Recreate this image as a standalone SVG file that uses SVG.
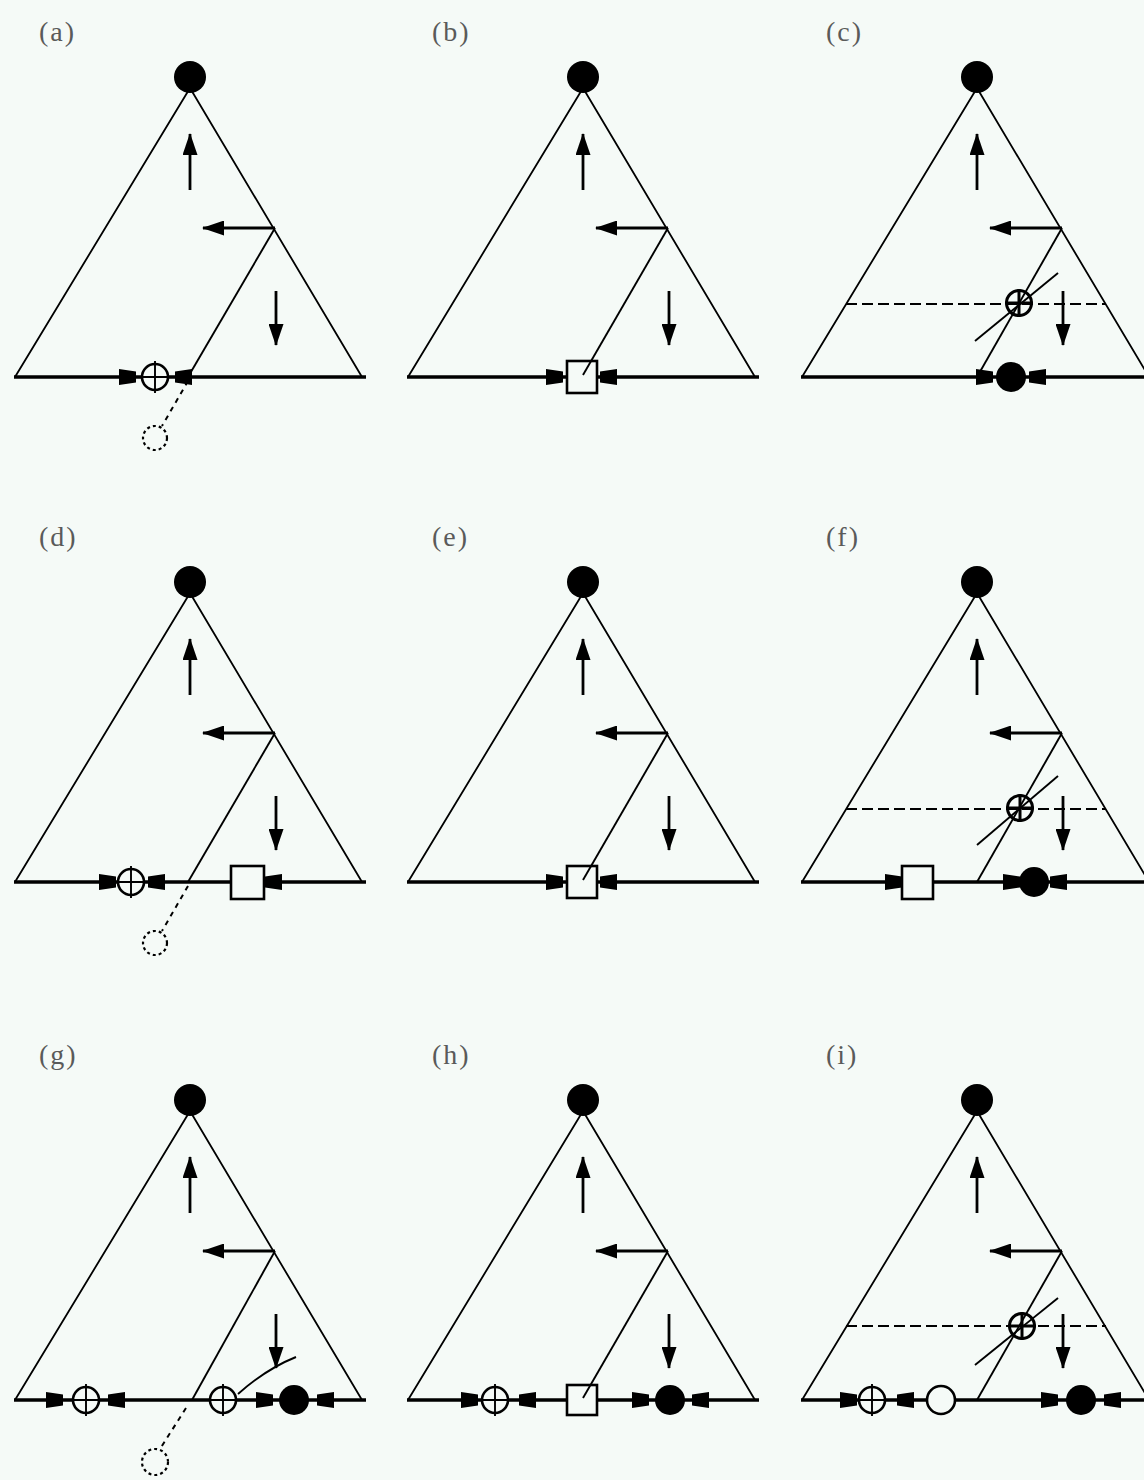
<svg xmlns="http://www.w3.org/2000/svg" xmlns:xlink="http://www.w3.org/1999/xlink" width="1144" height="1480" viewBox="0 0 1144 1480">
<style>
.bg{fill:#f5faf7}
.side{fill:none;stroke:#000;stroke-width:1.8}
.base{fill:none;stroke:#000;stroke-width:3.5}
.shaft{fill:none;stroke:#000;stroke-width:2.8;marker-end:url(#ah)}
.thin{fill:none;stroke:#000;stroke-width:1.9}
.hd{fill:none;stroke:#000;stroke-width:2.2;stroke-dasharray:11 5}
.ld{fill:none;stroke:#000;stroke-width:2;stroke-dasharray:5 5}
.fill{fill:#000}
.open{fill:#f5faf7;stroke:#000;stroke-width:2.6}
.dot{fill:none;stroke:#000;stroke-width:2.2;stroke-dasharray:3 3}
.lbl{font-family:"Liberation Serif",serif;font-size:28px;fill:#5a5a5a;letter-spacing:2px}
</style>
<defs>
<marker id="ah" viewBox="0 0 22 15" refX="21" refY="7.5" markerWidth="22" markerHeight="15" markerUnits="userSpaceOnUse" orient="auto"><path d="M0,0 L22,7.5 L0,15 z"/></marker>
<path id="pr" d="M-17,-8 L0,-5.5 L0,5.5 L-17,8 z"/>
<path id="pl" d="M17,-8 L0,-5.5 L0,5.5 L17,8 z"/>
<g id="xc"><circle r="13" class="open"/><path d="M0,-16 V16 M-13,0 H13" class="thin" stroke-width="2.4"/></g>
<g id="xb"><circle r="12.5" fill="none" stroke="#000" stroke-width="3"/><path d="M0,-14 V14 M-14,0 H14" fill="none" stroke="#000" stroke-width="3"/></g>
<g id="frame"><path class="side" d="M190,88 L15,377 M190,88 L362,377"/><path class="base" d="M14,377 H366"/></g>
<g id="arrows"><path class="shaft" d="M190,190 V134"/><path class="shaft" d="M275,228 H203"/><path class="shaft" d="M276,291 V345"/></g>
</defs>
<rect class="bg" x="0" y="0" width="1144" height="1480"/>

<!-- (a) -->
<g id="panel-a" transform="translate(0,0)">
<text class="lbl" x="39" y="41">(a)</text>
<g id="a-connectors"><use href="#frame"/><use href="#arrows"/><path class="thin" d="M275,228 L188,377"/><path class="ld" d="M188,381 L162,426"/></g>
<g id="a-root"><circle class="fill" cx="190" cy="77" r="16"/></g>
<g id="a-n1"><use href="#pr" x="136" y="377"/><use href="#xc" x="155" y="377"/><use href="#pl" x="175" y="377"/></g>
<g id="a-n2"><circle class="dot" cx="155" cy="438" r="12"/></g>
</g>

<!-- (b) -->
<g id="panel-b" transform="translate(393,0)">
<text class="lbl" x="39" y="41">(b)</text>
<g id="b-connectors"><use href="#frame"/><use href="#arrows"/></g>
<g id="b-root"><circle class="fill" cx="190" cy="77" r="16"/></g>
<g id="b-n1"><use href="#pr" x="170" y="377"/><rect class="open" x="174" y="361" width="30" height="32"/><use href="#pl" x="207" y="377"/></g>
<path class="thin" d="M275,228 L190,375"/>
</g>

<!-- (c) -->
<g id="panel-c" transform="translate(787,0)">
<text class="lbl" x="39" y="41">(c)</text>
<g id="c-connectors"><use href="#frame"/><use href="#arrows"/><path class="hd" d="M59,304 H319"/><path class="thin" d="M275,228 L190,377"/><path class="thin" d="M188,341 L271,273"/></g>
<g id="c-root"><circle class="fill" cx="190" cy="77" r="16"/></g>
<g id="c-n1"><use href="#xb" x="232" y="303"/></g>
<g id="c-n2"><use href="#pr" x="206" y="377"/><circle class="fill" cx="224" cy="377" r="15"/><use href="#pl" x="242" y="377"/></g>
</g>

<!-- (d) -->
<g id="panel-d" transform="translate(0,505)">
<text class="lbl" x="39" y="41">(d)</text>
<g id="d-connectors"><use href="#frame"/><use href="#arrows"/><path class="thin" d="M275,228 L188,377"/><path class="ld" d="M188,381 L162,426"/></g>
<g id="d-root"><circle class="fill" cx="190" cy="77" r="16"/></g>
<g id="d-n1"><use href="#pr" x="116" y="377"/><use href="#xc" x="131" y="377"/><use href="#pl" x="148" y="377"/></g>
<g id="d-n2"><rect class="open" x="231" y="361" width="33" height="33"/><use href="#pl" x="265" y="377"/></g>
<g id="d-n3"><circle class="dot" cx="155" cy="438" r="12"/></g>
</g>

<!-- (e) -->
<g id="panel-e" transform="translate(393,505)">
<text class="lbl" x="39" y="41">(e)</text>
<g id="e-connectors"><use href="#frame"/><use href="#arrows"/></g>
<g id="e-root"><circle class="fill" cx="190" cy="77" r="16"/></g>
<g id="e-n1"><use href="#pr" x="170" y="377"/><rect class="open" x="174" y="361" width="30" height="32"/><use href="#pl" x="207" y="377"/></g>
<path class="thin" d="M275,228 L190,375"/>
</g>

<!-- (f) -->
<g id="panel-f" transform="translate(787,505)">
<text class="lbl" x="39" y="41">(f)</text>
<g id="f-connectors"><use href="#frame"/><use href="#arrows"/><path class="hd" d="M59,304 H319"/><path class="thin" d="M275,228 L190,377"/><path class="thin" d="M190,340 L271,271"/></g>
<g id="f-root"><circle class="fill" cx="190" cy="77" r="16"/></g>
<g id="f-n1"><use href="#xb" x="233" y="303"/></g>
<g id="f-n2"><use href="#pr" x="115" y="377"/><rect class="open" x="115" y="361" width="31" height="33"/></g>
<g id="f-n3"><use href="#pr" x="233" y="377"/><circle class="fill" cx="247" cy="377" r="15"/><use href="#pl" x="263" y="377"/></g>
</g>

<!-- (g) -->
<g id="panel-g" transform="translate(0,1023)">
<text class="lbl" x="39" y="41">(g)</text>
<g id="g-connectors"><use href="#frame"/><use href="#arrows"/><path class="thin" d="M275,228 L192,377"/><path class="ld" d="M186,385 L160,426"/><path class="thin" d="M238,371 Q266,346 296,334"/></g>
<g id="g-root"><circle class="fill" cx="190" cy="77" r="16"/></g>
<g id="g-n1"><use href="#pr" x="63" y="377"/><use href="#xc" x="86" y="377"/><use href="#pl" x="108" y="377"/></g>
<g id="g-n2"><use href="#xc" x="223" y="377"/></g>
<g id="g-n3"><use href="#pr" x="273" y="377"/><circle class="fill" cx="294" cy="377" r="15"/><use href="#pl" x="317" y="377"/></g>
<g id="g-n4"><circle class="dot" cx="155" cy="439" r="13"/></g>
</g>

<!-- (h) -->
<g id="panel-h" transform="translate(393,1023)">
<text class="lbl" x="39" y="41">(h)</text>
<g id="h-connectors"><use href="#frame"/><use href="#arrows"/></g>
<g id="h-root"><circle class="fill" cx="190" cy="77" r="16"/></g>
<g id="h-n1"><use href="#pr" x="85" y="377"/><use href="#xc" x="102" y="377"/><use href="#pl" x="126" y="377"/></g>
<g id="h-n2"><rect class="open" x="174" y="362" width="30" height="30"/></g>
<path class="thin" d="M275,228 L190,375"/>
<g id="h-n3"><use href="#pr" x="256" y="377"/><circle class="fill" cx="277" cy="377" r="15"/><use href="#pl" x="299" y="377"/></g>
</g>

<!-- (i) -->
<g id="panel-i" transform="translate(787,1023)">
<text class="lbl" x="39" y="41">(i)</text>
<g id="i-connectors"><use href="#frame"/><use href="#arrows"/><path class="hd" d="M59,303 H319"/><path class="thin" d="M275,228 L190,377"/><path class="thin" d="M188,342 L271,275"/></g>
<g id="i-root"><circle class="fill" cx="190" cy="77" r="16"/></g>
<g id="i-n1"><use href="#xb" x="235" y="303"/></g>
<g id="i-n2"><use href="#pr" x="70" y="377"/><use href="#xc" x="85" y="377"/><use href="#pl" x="110" y="377"/></g>
<g id="i-n3"><circle class="open" cx="154" cy="377" r="14"/></g>
<g id="i-n4"><use href="#pr" x="271" y="377"/><circle class="fill" cx="294" cy="377" r="15"/><use href="#pl" x="317" y="377"/></g>
</g>
</svg>
